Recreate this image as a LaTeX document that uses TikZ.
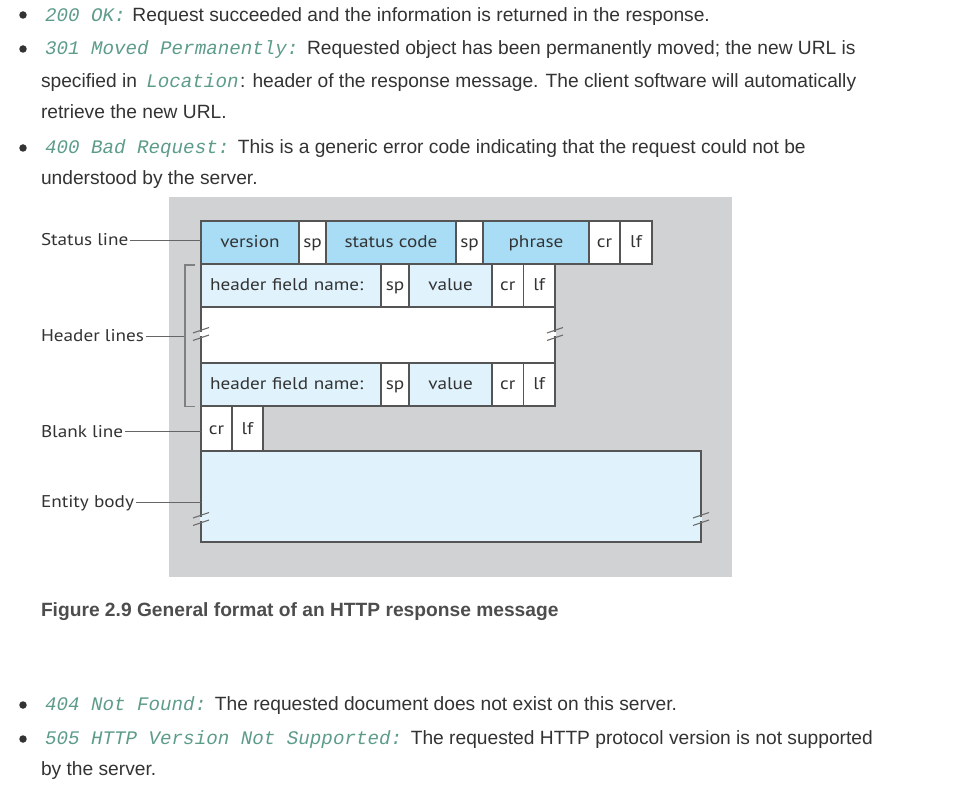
\documentclass[tikz,border=0pt]{standalone}
\usepackage{fontspec}
\setmainfont{Liberation Sans}
\setmonofont{Liberation Mono}
\newfontfamily\figfont[FakeStretch=1.13]{PT Sans}
\definecolor{txt}{HTML}{333333}
\definecolor{capc}{HTML}{4D4D4D}
\definecolor{codec}{HTML}{5E9C8A}
\definecolor{bgc}{HTML}{D1D2D4}
\definecolor{statc}{HTML}{A9DDF6}
\definecolor{hdrc}{HTML}{E0F2FC}
\definecolor{edgec}{HTML}{555555}
\newcommand\codetxt[1]{{\ttfamily\itshape\color{codec}#1}\hspace{1.5pt}}
\tikzset{
  bodytext/.style={anchor=base west, inner sep=0, outer sep=0, text=txt, font=\fontsize{19.2}{19.2}\selectfont},
  bullet/.style={circle, fill=txt, minimum size=7.5pt, inner sep=0},
  cell/.style={draw=edgec, line width=1.2pt, inner sep=0, outer sep=0, anchor=north west,
    text=txt, font=\figfont\fontsize{17}{17}\selectfont, text height=12.5pt, text depth=2pt},
  lab/.style={anchor=west, inner sep=0, outer sep=0, text=txt, font=\figfont\fontsize{17}{17}\selectfont,
    text height=11.5pt, text depth=0pt},
  conn/.style={draw=edgec!90, line width=0.9pt},
  brkmark/.style={draw=edgec!85, line width=1.1pt},
}
\begin{document}
\begin{tikzpicture}[x=1pt,y=-1pt]
\useasboundingbox[fill=white] (0,0) rectangle (960,791);

% ---------- text above ----------
\node[bullet] (b1) at (23,15) {};
\node[bodytext] (t1) at (45,22) {\codetxt{200 OK:} Request succeeded and the information is returned in the response.};
\node[bullet] (b2) at (23,49) {};
\node[bodytext] (t2) at (45,54.5) {\codetxt{301 Moved Permanently:} Requested object has been permanently moved; the new URL is};
\node[bodytext] (t3) at (41,88) {specified in\hspace{4pt} {\ttfamily\itshape\color{codec}Location}\hspace{1.5pt}: header of the response message. The client software will automatically};
\node[bodytext] (t4) at (41,119) {retrieve the new URL.};
\node[bullet] (b3) at (23,148) {};
\node[bodytext] (t5) at (45,154) {\codetxt{400 Bad Request:} This is a generic error code indicating that the request could not be};
\node[bodytext] (t6) at (41,184.5) {understood by the server.};

% ---------- figure ----------
\fill[bgc] (169,197) rectangle (732,577);

% status line
\node[cell, fill=statc, minimum width=98pt, minimum height=43pt] (ver) at (201,221) {version};
\node[cell, fill=white, minimum width=27pt, minimum height=43pt] (sp1) at (ver.north east) {sp};
\node[cell, fill=statc, minimum width=130pt, minimum height=43pt] (code) at (sp1.north east) {status code};
\node[cell, fill=white, minimum width=27pt, minimum height=43pt] (sp2) at (code.north east) {sp};
\node[cell, fill=statc, minimum width=106pt, minimum height=43pt] (phr) at (sp2.north east) {phrase};
\node[cell, fill=white, minimum width=31pt, minimum height=43pt] (cr1) at (phr.north east) {cr};
\node[cell, fill=white, minimum width=32pt, minimum height=43pt] (lf1) at (cr1.north east) {lf};

% header line 1
\node[cell, fill=hdrc, inner xsep=9pt, align=left, minimum height=43pt, text width=162pt] (hn1) at (201,264) {header field name:};
\node[cell, fill=white, minimum width=28pt, minimum height=43pt] (hs1) at (hn1.north east) {sp};
\node[cell, fill=hdrc, minimum width=83pt, minimum height=43pt] (hv1) at (hs1.north east) {value};
\node[cell, fill=white, minimum width=31.5pt, minimum height=43pt] (hc1) at (hv1.north east) {cr};
\node[cell, fill=white, minimum width=31.5pt, minimum height=43pt] (hl1) at (hc1.north east) {lf};

% blank middle
\node[cell, fill=white, minimum width=354pt, minimum height=56pt] (mid) at (201,307) {};

% header line 2
\node[cell, fill=hdrc, inner xsep=9pt, align=left, minimum height=43pt, text width=162pt] (hn2) at (201,363) {header field name:};
\node[cell, fill=white, minimum width=28pt, minimum height=43pt] (hs2) at (hn2.north east) {sp};
\node[cell, fill=hdrc, minimum width=83pt, minimum height=43pt] (hv2) at (hs2.north east) {value};
\node[cell, fill=white, minimum width=31.5pt, minimum height=43pt] (hc2) at (hv2.north east) {cr};
\node[cell, fill=white, minimum width=31.5pt, minimum height=43pt] (hl2) at (hc2.north east) {lf};

% blank line
\node[cell, fill=white, minimum width=31pt, minimum height=44.5pt] (bcr) at (201,406.5) {cr};
\node[cell, fill=white, minimum width=31pt, minimum height=44.5pt] (blf) at (bcr.north east) {lf};

% entity body
\node[cell, fill=hdrc, minimum width=500pt, minimum height=91pt] (body) at (201,451) {};

% break marks (edge interrupted between two slanted strokes)
\foreach \cx/\cy/\inn in {201/334/white, 555/334/white, 201/519/hdrc, 701/519/hdrc} {
  \draw[\inn, line width=1.6pt] (\cx,\cy-2.2) -- (\cx,\cy+2.2);
  \draw[brkmark] (\cx-8,\cy-1) -- (\cx+8,\cy-6.5);
  \draw[brkmark] (\cx-8,\cy+6.5) -- (\cx+8,\cy+1);
}

% labels
\node[lab] (lstat) at (41,240) {Status line};
\node[lab] (lhdr) at (41,336) {Header lines};
\node[lab] (lblank) at (41,431.5) {Blank line};
\node[lab] (lbody) at (41,502) {Entity body};

\coordinate (brk) at (185,336);
\draw[conn] (lstat.east) ++(2,0) -- (lstat.east -| ver.west);
\draw[conn] (lhdr.east) ++(2,0) -- (brk);
\draw[draw=edgec!75, line width=1.2pt] (195,265) -- (185,265) -- (185,406.5) -- (195,406.5);
\draw[conn] (lblank.east) ++(2,0) -- (lblank.east -| bcr.west);
\draw[conn] (lbody.east) ++(2,0) -- (lbody.east -| body.west);

% caption
\node[bodytext, text=capc, font=\bfseries\fontsize{19.2}{19.2}\selectfont] (cap) at (41,616) {Figure 2.9 General format of an HTTP response message};

% ---------- text below ----------
\node[bullet] (b4) at (23,705) {};
\node[bodytext] (t7) at (45,710.5) {\codetxt{404 Not Found:} The requested document does not exist on this server.};
\node[bullet] (b5) at (23,739) {};
\node[bodytext] (t8) at (45,744) {\codetxt{505 HTTP Version Not Supported:} The requested HTTP protocol version is not supported};
\node[bodytext] (t9) at (41,775) {by the server.};
\end{tikzpicture}
\end{document}
